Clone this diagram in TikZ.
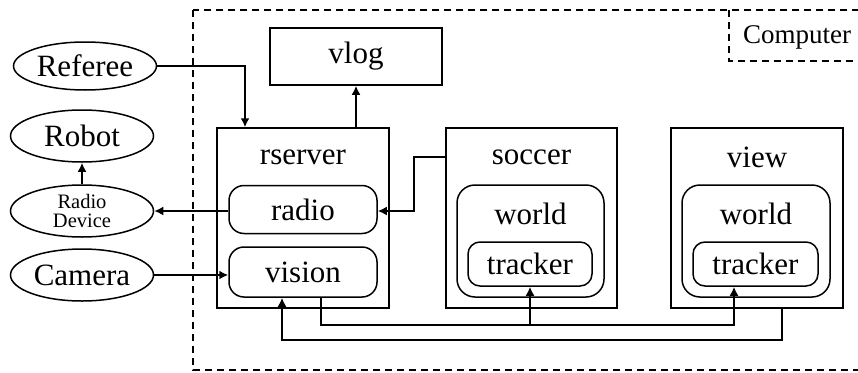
\documentclass[tikz,border=0pt]{standalone}
\usepackage{fontspec}
\setmainfont{Liberation Serif}
\usetikzlibrary{arrows.meta,shapes.geometric}
\begin{document}
\begin{tikzpicture}[x=1pt,y=-1pt,
  txt/.style={font=\fontsize{31}{36}\selectfont, inner sep=0pt},
  sz/.style 2 args={minimum width=#1pt, minimum height=#2pt, inner sep=0pt},
  boxframe/.style={draw, line width=1.5pt},
  rbox/.style={draw, line width=1.5pt, rounded corners=15pt},
  wbox/.style={draw, line width=1.5pt, rounded corners=18pt},
  tbox/.style={draw, line width=1.5pt, rounded corners=12pt},
  ell/.style={draw, ellipse, line width=1.5pt, inner sep=0pt},
  conn/.style={line width=2.3pt, -{Latex[length=9pt,width=9pt]}},
  dashline/.style={line width=2.2pt, dash pattern=on 7pt off 5pt}
]
\clip (0,0) rectangle (858,372);
% outer computer region
\draw[dashline] (193,10) rectangle (880,370);
\draw[dashline] (729,10) -- (729,61) -- (880,61);
\node[txt, font=\fontsize{27}{32}\selectfont] (computer) at (797,37) {Computer};

% ellipses
\node[ell, sz={143}{48}, txt] (referee) at (85,66) {Referee};
\node[ell, sz={143}{52}, txt] (robot) at (82,136) {Robot};
\node[ell, sz={143}{52}, inner sep=0pt, align=center, font=\fontsize{20.5}{19}\selectfont] (radiodev) at (82,211) {Radio\\Device};
\node[ell, sz={143}{52}, txt] (camera) at (82,275) {Camera};

% vlog
\node[boxframe, sz={172}{57}, txt] (vlog) at (356,56.5) {vlog};

% rserver
\node[boxframe, sz={172}{180}] (rserver) at (303,218) {};
\node[txt] (rserverlbl) at (303,157) {rserver};
\node[rbox, sz={148}{48}, txt] (radio) at (303,209.5) {radio};
\node[rbox, sz={148}{50}, txt] (vision) at (303,272) {vision};

% soccer
\node[boxframe, sz={171}{180}] (soccer) at (531.5,218) {};
\node[txt] (soccerlbl) at (531.5,157) {soccer};
\node[wbox, sz={147}{112}] (sworld) at (530.5,241) {};
\node[txt] (sworldlbl) at (530.5,214) {world};
\node[tbox, sz={124}{44}, txt] (stracker) at (530,264) {tracker};

% view
\node[boxframe, sz={172}{180}] (view) at (757,218) {};
\node[txt] (viewlbl) at (757,157) {view};
\node[wbox, sz={148}{112}] (vworld) at (756,241) {};
\node[txt] (vworldlbl) at (756,214) {world};
\node[tbox, sz={125}{44}, txt] (vtracker) at (755.5,264) {tracker};

% connectors
\draw[conn] (referee.east) -| ([xshift=-58pt]rserver.north);
\draw[conn] (rserver.north -| vlog.south) -- (vlog.south);
\draw[conn] (radiodev.north) -- (robot.south);
\draw[conn] (radio.west |- radiodev.east) -- (radiodev.east);
\draw[conn] ([yshift=-30pt]soccer.north west) -- ++(-31,0) |- (radio.east |- radiodev.east);
\draw[conn] (camera.east) -- (camera.east -| vision.west);
\coordinate (bus1) at ([xshift=18pt,yshift=-27pt]vision.south);
\draw[conn] ([xshift=18pt]vision.south) -- (bus1) -| ([xshift=-21.5pt]vtracker.south);
\draw[conn] (bus1 -| stracker.south) -- (stracker.south);
\coordinate (bus2) at ([xshift=25pt,yshift=-31pt]view.south);
\draw[conn] ([xshift=25pt]view.south) -- (bus2) -| ([xshift=-21pt]vision.south);
\end{tikzpicture}
\end{document}
